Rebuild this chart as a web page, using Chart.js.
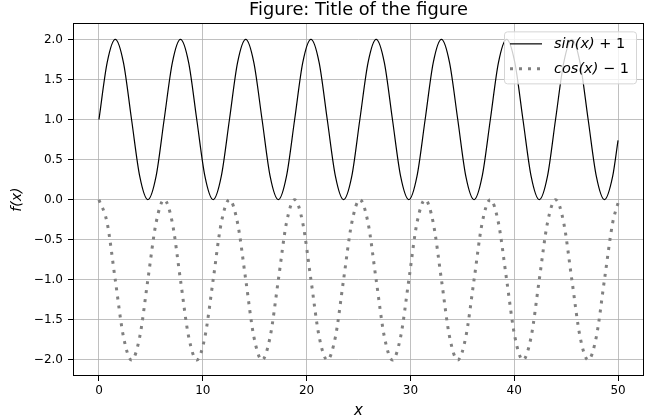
<!DOCTYPE html>
<html>
<head>
<meta charset="utf-8">
<script src="https://cdn.jsdelivr.net/npm/chart.js@4.4.0/dist/chart.umd.min.js"></script>
<style>
  html, body { margin: 0; padding: 0; background: #fff; }
</style>
</head>
<body>
<canvas id="chart" width="645" height="417"></canvas>
<script>
const xValues = [
  0, 0.79, 1.57, 2.36, 3.14, 3.93, 4.71, 5.50,
  6.28, 7.07, 7.85, 8.64, 9.42, 10.21, 11.00, 11.78,
  12.57, 13.35, 14.14, 14.92, 15.71, 16.49, 17.28, 18.06,
  18.85, 19.63, 20.42, 21.21, 21.99, 22.78, 23.56, 24.35,
  25.13, 25.92, 26.70, 27.49, 28.27, 29.06, 29.85, 30.63,
  31.42, 32.20, 32.99, 33.77, 34.56, 35.34, 36.13, 36.91,
  37.70, 38.48, 39.27, 40.06, 40.84, 41.63, 42.41, 43.20,
  43.98, 44.77, 45.55, 46.34, 47.12, 47.91, 48.69, 49.48,
  50
];
const sinValues = [
  1, 1.71, 2, 1.71, 1, 0.29, 0, 0.29,
  1, 1.71, 2, 1.71, 1, 0.29, 0, 0.29,
  1, 1.71, 2, 1.71, 1, 0.29, 0, 0.29,
  1, 1.71, 2, 1.71, 1, 0.29, 0, 0.29,
  1, 1.71, 2, 1.71, 1, 0.29, 0, 0.29,
  1, 1.71, 2, 1.71, 1, 0.29, 0, 0.29,
  1, 1.71, 2, 1.71, 1, 0.29, 0, 0.29,
  1, 1.71, 2, 1.71, 1, 0.29, 0, 0.29,
  0.74
];
const cosValues = [
  0, -0.29, -1, -1.71, -2, -1.71, -1, -0.29,
  0, -0.29, -1, -1.71, -2, -1.71, -1, -0.29,
  0, -0.29, -1, -1.71, -2, -1.71, -1, -0.29,
  0, -0.29, -1, -1.71, -2, -1.71, -1, -0.29,
  0, -0.29, -1, -1.71, -2, -1.71, -1, -0.29,
  0, -0.29, -1, -1.71, -2, -1.71, -1, -0.29,
  0, -0.29, -1, -1.71, -2, -1.71, -1, -0.29,
  0, -0.29, -1, -1.71, -2, -1.71, -1, -0.29,
  -0.04
];
const xTicks = [0, 10, 20, 30, 40, 50];
const yTicks = [-2, -1.5, -1, -0.5, 0, 0.5, 1, 1.5, 2];
// legend text: [italic part, upright part]
const legendParts = [['sin(x)', ' + 1'], ['cos(x)', ' \u2212 1']];

const FONT = 'DejaVu Sans';

function toPoints(ys) {
  return xValues.map((x, i) => ({ x: x, y: ys[i] }));
}

// full box around the axes (matplotlib spines)
const framePlugin = {
  id: 'frame',
  afterDatasetsDraw(chart) {
    const a = chart.chartArea;
    const ctx = chart.ctx;
    ctx.save();
    ctx.strokeStyle = '#000';
    ctx.lineWidth = 1;
    ctx.strokeRect(Math.round(a.left) + 0.5, Math.round(a.top) + 0.5,
      Math.round(a.right - a.left) - 1, Math.round(a.bottom - a.top) - 1);
    ctx.restore();
  }
};

// legend drawn inside the plot, upper right
const innerLegend = {
  id: 'innerLegend',
  afterDraw(chart) {
    const a = chart.chartArea;
    const ctx = chart.ctx;
    const w = 132, h = 52;
    const x0 = a.right - 8 - w, y0 = a.top + 8;
    ctx.save();
    ctx.beginPath();
    ctx.roundRect(x0 + 0.5, y0 + 0.5, w, h, 3);
    ctx.fillStyle = 'rgba(255,255,255,0.8)';
    ctx.fill();
    ctx.strokeStyle = '#d5d5d5';
    ctx.lineWidth = 1;
    ctx.stroke();

    chart.data.datasets.forEach((ds, i) => {
      const cy = y0 + 12.5 + i * 25;
      ctx.beginPath();
      ctx.setLineDash(ds.borderDash || []);
      ctx.strokeStyle = ds.borderColor;
      ctx.lineWidth = ds.borderWidth;
      ctx.moveTo(x0 + 6, cy);
      ctx.lineTo(x0 + 38, cy);
      ctx.stroke();
      ctx.setLineDash([]);

      ctx.fillStyle = '#000';
      ctx.textBaseline = 'middle';
      ctx.textAlign = 'left';
      let tx = x0 + 50;
      ctx.font = 'italic 14.5px "' + FONT + '"';
      ctx.fillText(legendParts[i][0], tx, cy);
      tx += ctx.measureText(legendParts[i][0]).width;
      ctx.font = '14.5px "' + FONT + '"';
      ctx.fillText(legendParts[i][1], tx, cy);
    });
    ctx.restore();
  }
};

const tickFont = { family: FONT, size: 12 };

new Chart(document.getElementById('chart'), {
  type: 'line',
  data: {
    datasets: [
      {
        label: 'sin(x) + 1',
        data: toPoints(sinValues),
        borderColor: '#000000',
        borderWidth: 1.2,
        pointRadius: 0,
        cubicInterpolationMode: 'monotone',
        fill: false
      },
      {
        label: 'cos(x) \u2212 1',
        data: toPoints(cosValues),
        borderColor: '#808080',
        borderWidth: 3,
        borderDash: [3, 6],
        borderCapStyle: 'butt',
        pointRadius: 0,
        cubicInterpolationMode: 'monotone',
        fill: false
      }
    ]
  },
  options: {
    responsive: false,
    devicePixelRatio: 1,
    animation: false,
    layout: { padding: { left: 0, right: 1, top: 0, bottom: 0 } },
    plugins: {
      legend: { display: false },
      tooltip: { enabled: false },
      title: {
        display: true,
        fullSize: false,
        text: 'Figure: Title of the figure',
        color: '#000',
        font: { family: FONT, size: 17.8, weight: 'normal', lineHeight: 1.2 },
        padding: { top: 0, bottom: 2 }
      }
    },
    scales: {
      x: {
        type: 'linear',
        min: -2.5,
        max: 52.5,
        afterBuildTicks: (scale) => { scale.ticks = xTicks.map(v => ({ value: v })); },
        afterFit: (scale) => { scale.height = 41; },
        grid: { color: '#b0b0b0', lineWidth: 0.8, tickColor: '#000', tickLength: 5, tickWidth: 1 },
        border: { display: false },
        ticks: { color: '#000', font: tickFont, padding: 3, maxRotation: 0,
          callback: (v) => String(v) },
        title: { display: true, text: 'x', color: '#000',
          font: { family: FONT, size: 15, style: 'italic' }, padding: { top: 0, bottom: -3 } }
      },
      y: {
        min: -2.2,
        max: 2.2,
        afterBuildTicks: (scale) => { scale.ticks = yTicks.map(v => ({ value: v })); },
        afterFit: (scale) => { scale.width = 73; },
        grid: { color: '#b0b0b0', lineWidth: 0.8, tickColor: '#000', tickLength: 5, tickWidth: 1 },
        border: { display: false },
        ticks: { color: '#000', font: tickFont, padding: 5,
          callback: (v) => v.toFixed(1).replace('-', '\u2212') },
        title: { display: true, text: 'f(x)', color: '#000',
          font: { family: FONT, size: 14, style: 'italic' }, padding: { top: 9, bottom: 0 } }
      }
    }
  },
  plugins: [framePlugin, innerLegend]
});
</script>
</body>
</html>
